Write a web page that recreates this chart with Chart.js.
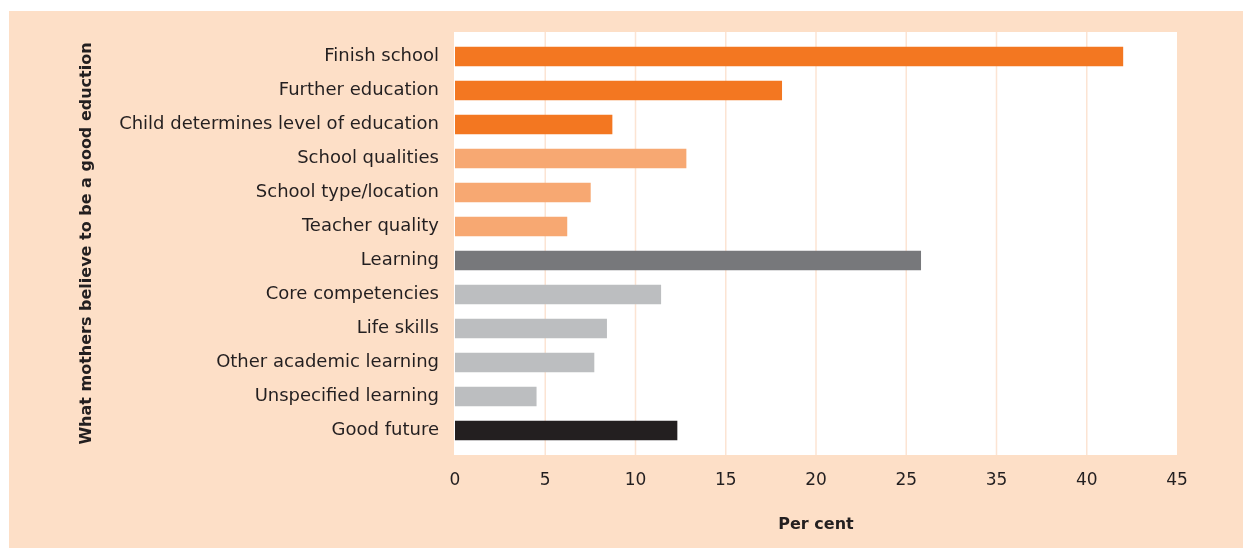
<!DOCTYPE html>
<html>
<head>
<meta charset="utf-8">
<title>What mothers believe to be a good eduction</title>
<script src="https://cdn.jsdelivr.net/npm/chart.js@4"></script>
<style>
  html, body { margin: 0; padding: 0; background: #ffffff; }
  #wrap { width: 1243px; height: 548px; position: relative; }
</style>
</head>
<body>
<div id="wrap"><canvas id="educationChart"></canvas></div>
<script>
// --- Data ---
const categories = [
    'Finish school',
    'Further education',
    'Child determines level of education',
    'School qualities',
    'School type/location',
    'Teacher quality',
    'Learning',
    'Core competencies',
    'Life skills',
    'Other academic learning',
    'Unspecified learning',
    'Good future'
];
const percentValues = [37.0, 18.1, 8.7, 12.8, 7.5, 6.2, 25.8, 11.4, 8.4, 7.7, 4.5, 12.3];
const groupOfCategory = ['school', 'school', 'school', 'quality', 'quality', 'quality',
    'learning', 'detail', 'detail', 'detail', 'detail', 'future'];
const tickLabels = ['0', '5', '10', '15', '20', '25', '35', '40', '45'];

const groupColors = {
    school: '#f37721',
    quality: '#f7a872',
    learning: '#77787b',
    detail: '#bcbec0',
    future: '#231f20'
};

const PANEL = '#fddfc7';
const GRID = '#fce4d3';
const INK = '#231f20';
const FONT = "'DejaVu Sans', sans-serif";

// --- Backdrop: peach panel, white plot band and vertical grid ---
const backdrop = {
    id: 'backdrop',
    beforeDraw(chart) {
        const { ctx, chartArea, scales } = chart;
        const ext = 7.5;
        ctx.save();
        ctx.fillStyle = PANEL;
        ctx.fillRect(9, 11, chart.width - 9, chart.height - 11);
        ctx.fillStyle = '#ffffff';
        ctx.fillRect(chartArea.left - 1, chartArea.top - ext,
            chartArea.right - chartArea.left + 1, chartArea.bottom - chartArea.top + ext * 2);
        ctx.strokeStyle = GRID;
        ctx.lineWidth = 1.5;
        scales.x.ticks.forEach(t => {
            if (t.value <= 0 || t.value >= scales.x.max) return;
            const x = scales.x.getPixelForValue(t.value);
            ctx.beginPath();
            ctx.moveTo(x, chartArea.top - ext);
            ctx.lineTo(x, chartArea.bottom + ext);
            ctx.stroke();
        });
        ctx.restore();
    }
};

const initChart = () => {
    const ctx = document.getElementById('educationChart');

    new Chart(ctx, {
        type: 'bar',
        data: {
            labels: categories,
            datasets: [{
                data: percentValues,
                backgroundColor: groupOfCategory.map(g => groupColors[g]),
                borderWidth: 0,
                barThickness: 19
            }]
        },
        options: {
            indexAxis: 'y',
            responsive: true,
            maintainAspectRatio: false,
            animation: false,
            layout: { padding: { top: 39.5, right: 66, left: 0, bottom: 0 } },
            plugins: {
                legend: { display: false },
                tooltip: { enabled: false }
            },
            scales: {
                x: {
                    min: 0,
                    max: 40,
                    border: { display: false },
                    grid: { display: false, drawTicks: false },
                    ticks: {
                        stepSize: 5,
                        padding: 23,
                        color: INK,
                        font: { family: FONT, size: 17 },
                        callback: (v, i) => tickLabels[i]
                    },
                    title: {
                        display: true,
                        text: 'Per cent',
                        color: INK,
                        font: { family: FONT, size: 16, weight: 'bold' },
                        padding: { top: 0, bottom: 14 }
                    },
                    afterFit: s => { s.height = 100.5; }
                },
                y: {
                    border: { display: false },
                    grid: { display: false, drawTicks: false },
                    ticks: {
                        padding: 16,
                        color: INK,
                        font: { family: FONT, size: 18 }
                    },
                    title: {
                        display: true,
                        text: 'What mothers believe to be a good eduction',
                        color: INK,
                        font: { family: FONT, size: 16, weight: 'bold' },
                        padding: { top: 77, bottom: 0 }
                    },
                    afterFit: s => { s.width = 455; }
                }
            }
        },
        plugins: [backdrop]
    });
};

document.addEventListener('DOMContentLoaded', initChart);
</script>
</body>
</html>
